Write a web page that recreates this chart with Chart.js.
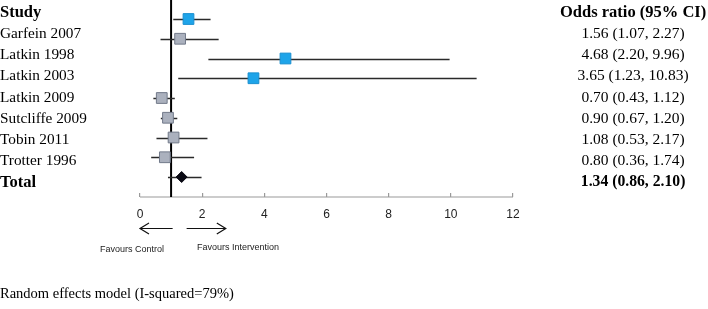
<!DOCTYPE html>
<html>
<head>
<meta charset="utf-8">
<script src="https://cdn.jsdelivr.net/npm/chart.js@4"></script>
<style>
html,body{margin:0;padding:0;background:#fff;}
#wrap{position:relative;width:708px;height:309px;}
#note{position:absolute;left:0;top:285px;font-family:"Liberation Serif","Times New Roman",serif;font-size:14.5px;color:#000;white-space:nowrap;}
</style>
</head>
<body>
<div id="wrap"><canvas id="c" width="708" height="309"></canvas><div id="note">Random effects model (I-squared=79%)</div></div>
<script>
// ---- data ----
const studyLabels = ["Study","Garfein 2007","Latkin 1998","Latkin 2003","Latkin 2009","Sutcliffe 2009","Tobin 2011","Trotter 1996","Total"];
const ciLabels = ["Odds ratio (95% CI)","1.56 (1.07, 2.27)","4.68 (2.20, 9.96)","3.65 (1.23, 10.83)","0.70 (0.43, 1.12)","0.90 (0.67, 1.20)","1.08 (0.53, 2.17)","0.80 (0.36, 1.74)","1.34 (0.86, 2.10)"];
// plotted rows (as drawn, top to bottom)
const oddsRatio = [1.56, 1.29, 4.68, 3.65, 0.70, 0.90, 1.08, 0.80, 1.34];
const ciLow     = [1.07, 0.66, 2.20, 1.23, 0.43, 0.67, 0.53, 0.36, 0.90];
const ciHigh    = [2.27, 2.53, 9.96, 10.83, 1.12, 1.20, 2.17, 1.74, 1.98];
const markerKind = ["blue","gray","blue","blue","gray","gray","gray","gray","total"];
const xTicks = [0, 2, 4, 6, 8, 10, 12];

const BLUE = "#1ea4e9", BLUE_B = "#1a8fd0";
const GRAY = "#abb1be", GRAY_B = "#727a8a";

const points = oddsRatio.map((v, i) => ({x: v, y: i}));

const forestPlugin = {
  id: "forest",
  beforeDatasetsDraw(chart) {
    const {ctx, scales: {x, y}, chartArea} = chart;
    ctx.save();
    // axis baseline
    const baseY = chartArea.bottom + 4;
    ctx.strokeStyle = "#9a9a9a";
    ctx.lineWidth = 1.2;
    ctx.beginPath();
    ctx.moveTo(x.getPixelForValue(0), baseY);
    ctx.lineTo(x.getPixelForValue(12), baseY);
    ctx.stroke();
    // line of no effect
    ctx.strokeStyle = "#000";
    ctx.lineWidth = 2;
    ctx.beginPath();
    ctx.moveTo(x.getPixelForValue(1), 0);
    ctx.lineTo(x.getPixelForValue(1), baseY);
    ctx.stroke();
    // CI whiskers
    ctx.strokeStyle = "#2a2a2a";
    ctx.lineWidth = 1.5;
    for (let i = 0; i < oddsRatio.length; i++) {
      const py = Math.round(y.getPixelForValue(i)) + 0.5;
      ctx.beginPath();
      ctx.moveTo(x.getPixelForValue(ciLow[i]), py);
      ctx.lineTo(x.getPixelForValue(ciHigh[i]), py);
      ctx.stroke();
    }
    // arrows
    const ay = 228.5;
    ctx.strokeStyle = "#111";
    ctx.lineWidth = 1.2;
    const arrow = (x0, x1) => {
      const dir = Math.sign(x1 - x0);
      ctx.beginPath();
      ctx.moveTo(x0, ay); ctx.lineTo(x1, ay);
      ctx.moveTo(x1 - dir * 9, ay - 5.5); ctx.lineTo(x1, ay); ctx.lineTo(x1 - dir * 9, ay + 5.5);
      ctx.stroke();
    };
    arrow(x.getPixelForValue(1.05), x.getPixelForValue(0));
    arrow(x.getPixelForValue(1.5), x.getPixelForValue(2.76));
    ctx.fillStyle = "#222";
    ctx.font = "9px 'Liberation Sans', Arial, sans-serif";
    ctx.textBaseline = "middle";
    ctx.textAlign = "left";
    ctx.fillText("Favours Control", x.getPixelForValue(-1.29), 250);
    ctx.fillText("Favours Intervention", x.getPixelForValue(1.83), 248);
    ctx.restore();
  }
};

const serif = "'Liberation Serif', 'Times New Roman', serif";
const isBold = (i, n) => i === 0 || i === n - 1;

new Chart(document.getElementById("c"), {
  type: "scatter",
  data: {
    datasets: [{
      data: points,
      pointStyle: ctx => markerKind[ctx.dataIndex] === "total" ? "rectRot" : "rect",
      pointRadius: ctx => markerKind[ctx.dataIndex] === "total" ? 5.5 : 7.6,
      pointHoverRadius: ctx => markerKind[ctx.dataIndex] === "total" ? 5.5 : 7.6,
      pointBackgroundColor: ctx => { const k = markerKind[ctx.dataIndex]; return k === "blue" ? BLUE : k === "gray" ? GRAY : "#0a0a14"; },
      pointBorderColor: ctx => { const k = markerKind[ctx.dataIndex]; return k === "blue" ? BLUE_B : k === "gray" ? GRAY_B : "#0a0a14"; },
      pointBorderWidth: 1
    }]
  },
  options: {
    responsive: false,
    animation: false,
    events: [],
    layout: {autoPadding: false, padding: {top: 2, left: 0, right: 0, bottom: 0}},
    plugins: {legend: {display: false}, tooltip: {enabled: false}},
    scales: {
      x: {
        type: "linear", min: 0, max: 12,
        afterBuildTicks: s => { s.ticks = xTicks.map(v => ({value: v})); },
        afterFit: s => { s.height = 116; },
        border: {display: false},
        grid: {drawOnChartArea: false, drawTicks: true, tickLength: 4, color: "#9a9a9a", lineWidth: 1.2},
        ticks: {color: "#222", padding: 10, font: {family: "'Liberation Sans', Arial, sans-serif", size: 12}}
      },
      y: {
        type: "linear", reverse: true, min: -0.861, max: 8.81, display: false
      },
      yl: {
        type: "category", position: "left", labels: studyLabels, offset: true,
        afterFit: s => { s.width = 140; s.paddingTop = 0; s.paddingBottom = 0; },
        border: {display: false},
        grid: {display: false, drawTicks: false},
        ticks: {
          crossAlign: "far", color: "#000", padding: 0, autoSkip: false,
          font: ctx => isBold(ctx.index, studyLabels.length)
            ? {family: serif, size: 16.5, weight: "bold"}
            : {family: serif, size: 15.3, weight: "normal"}
        }
      },
      yr: {
        type: "category", position: "right", labels: ciLabels, offset: true,
        afterFit: s => { s.width = 195; s.paddingTop = 0; s.paddingBottom = 0; },
        border: {display: false},
        grid: {display: false, drawTicks: false},
        ticks: {
          crossAlign: "center", color: "#000", padding: 47, autoSkip: false,
          font: ctx => ctx.index === 0
            ? {family: serif, size: 16.5, weight: "bold"}
            : ctx.index === ciLabels.length - 1
              ? {family: serif, size: 15.7, weight: "bold"}
              : {family: serif, size: 15.5, weight: "normal"}
        }
      }
    }
  },
  plugins: [forestPlugin]
});
</script>
</body>
</html>
